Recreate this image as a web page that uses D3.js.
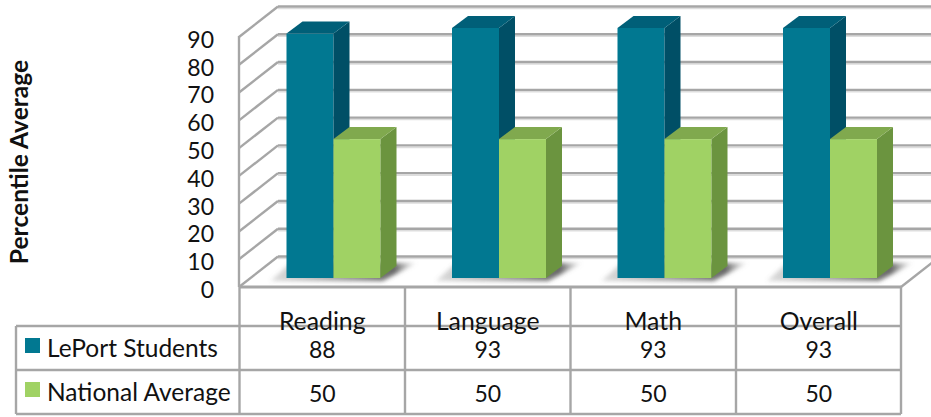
<!DOCTYPE html>
<html>
<head>
<meta charset="utf-8">
<script src="https://cdn.jsdelivr.net/npm/d3@7"></script>
<style>
html, body { margin: 0; padding: 0; background: #fff; overflow: hidden; }
text { font-family: Lato, "Open Sans", sans-serif; fill: #111; }
</style>
</head>
<body>
<div id="chart"></div>
<script>
const categories = ['Reading', 'Language', 'Math', 'Overall'];
const leportStudents = [88, 93, 93, 93];
const nationalAverage = [50, 50, 50, 50];
const tickValues = [0, 10, 20, 30, 40, 50, 60, 70, 80, 90];
const seriesNames = ['LePort Students', 'National Average'];
const seriesValues = [leportStudents, nationalAverage];
const yTitle = 'Percentile Average';

const colors = [
    { front: '#017891', side: '#004f66', top: '#005f78' },
    { front: '#a0d264', side: '#6b943f', top: '#80a94e' }
];
const gridColor = '#a6a6a6';
const depth = { x: 39, y: -30.5 };
const barDepth = { x: 16, y: -12 };
const barShift = { x: 12, y: -9 };

const svg = d3.select('#chart').append('svg')
    .attr('width', 931)
    .attr('height', 417);

const defs = svg.append('defs');
defs.append('filter').attr('id', 'blur')
    .attr('x', '-20%').attr('y', '-50%').attr('width', '140%').attr('height', '200%')
    .append('feGaussianBlur').attr('stdDeviation', 2);
const shadowFade = defs.append('linearGradient').attr('id', 'shadowFade')
    .attr('x1', 0).attr('x2', 1).attr('y1', 0).attr('y2', 0);
shadowFade.append('stop').attr('offset', '0%').attr('stop-color', '#777').attr('stop-opacity', 0.25);
shadowFade.append('stop').attr('offset', '85%').attr('stop-color', '#555').attr('stop-opacity', 0.9);
shadowFade.append('stop').attr('offset', '100%').attr('stop-color', '#999').attr('stop-opacity', 0.1);

const x = d3.scaleBand().domain(categories).range([239.5, 901.5]);
const y = d3.scaleLinear().domain([0, 90]).range([287, 37]).clamp(true);
const xSeries = d3.scaleBand().domain(d3.range(seriesNames.length)).range([47, 141]);

function line(g, x1, y1, x2, y2, width) {
    return g.append('line')
        .attr('x1', x1).attr('y1', y1).attr('x2', x2).attr('y2', y2)
        .attr('stroke', gridColor).attr('stroke-width', width || 2.4);
}

// walls
const walls = svg.append('g');
tickValues.forEach(t => {
    const yy = y(t);
    walls.append('line')
        .attr('x1', 239 + depth.x).attr('x2', 931)
        .attr('y1', yy + depth.y + 2).attr('y2', yy + depth.y + 2)
        .attr('stroke', '#ddd').attr('stroke-width', 1.5);
    line(walls, 239 + depth.x, yy + depth.y, 931, yy + depth.y);
    line(walls, 239, yy, 239 + depth.x, yy + depth.y);
});
line(walls, 239, y(90) - 1, 239, y(0));
line(walls, 901, y(0), 901 + depth.x, y(0) + depth.y);

// bars
const barLayer = svg.append('g');
categories.forEach((cat, c) => {
    const shadow = barLayer.append('g');
    seriesValues.forEach((values, s) => {
        const x0 = x(cat) + xSeries(s);
        const w = xSeries.bandwidth();
        const yBase = y(0) + barShift.y;
        const yTop = y(values[c]) + barShift.y;
        const g = barLayer.append('g');
        if (s === seriesValues.length - 1) {
            const left = x(cat) + xSeries(0);
            shadow.append('path')
                .attr('d', d3.line()([
                    [left - 16, yBase + 3],
                    [left + 4, yBase - 15],
                    [x0 + w + barDepth.x + 20, yBase - 15],
                    [x0 + w + 2, yBase + 3]
                ]))
                .attr('fill', 'url(#shadowFade)')
                .attr('filter', 'url(#blur)');
        }
        g.append('rect')
            .attr('x', x0).attr('y', yTop)
            .attr('width', w).attr('height', yBase - yTop)
            .attr('fill', colors[s].front);
        g.append('path')
            .attr('d', d3.line()([
                [x0 + w, yTop],
                [x0 + w + barDepth.x, yTop + barDepth.y],
                [x0 + w + barDepth.x, yBase + barDepth.y],
                [x0 + w, yBase]
            ]))
            .attr('fill', colors[s].side);
        g.append('path')
            .attr('d', d3.line()([
                [x0, yTop],
                [x0 + barDepth.x, yTop + barDepth.y],
                [x0 + w + barDepth.x, yTop + barDepth.y],
                [x0 + w, yTop]
            ]))
            .attr('fill', colors[s].top);
    });
});

// y axis
const axis = svg.append('g')
    .attr('transform', 'translate(214,3)')
    .call(d3.axisLeft(y).tickValues(tickValues).tickSize(0).tickPadding(0));
axis.select('.domain').remove();
axis.selectAll('text').style('font-size', '23px').style('font-family', 'Lato').attr('fill', '#111');

svg.append('text')
    .attr('transform', 'translate(28,162) rotate(-90)')
    .attr('text-anchor', 'middle')
    .style('font-size', '24.6px')
    .style('font-weight', 700)
    .text(yTitle);

// data table
const rowY = [326, 370, 414];
const table = svg.append('g');
svg.append('g').selectAll('text').data(categories).join('text')
    .attr('x', d => x(d) + x.bandwidth() / 2)
    .attr('y', 330)
    .attr('text-anchor', 'middle')
    .style('font-size', '24.8px')
    .text(d => d);
rowY.forEach(yy => line(table, 16, yy, 901, yy));
line(table, 239, y(0), 901, y(0), 3);
line(table, 16, rowY[0], 16, rowY[2]);
categories.forEach(cat => line(table, x(cat), y(0), x(cat), rowY[2]));
line(table, 901, y(0), 901, rowY[2]);

seriesNames.forEach((name, s) => {
    const cy = (rowY[s] + rowY[s + 1]) / 2;
    svg.append('rect')
        .attr('x', 25).attr('y', cy - 10)
        .attr('width', 15).attr('height', 15)
        .attr('fill', colors[s].front);
    svg.append('text')
        .attr('x', 47).attr('y', cy + 9)
        .style('font-size', '24.5px')
        .text(name);
    categories.forEach((cat, c) => {
        svg.append('text')
            .attr('x', x(cat) + x.bandwidth() / 2)
            .attr('y', cy + 10)
            .attr('text-anchor', 'middle')
            .style('font-size', '23px')
            .text(seriesValues[s][c]);
    });
});
</script>
</body>
</html>
